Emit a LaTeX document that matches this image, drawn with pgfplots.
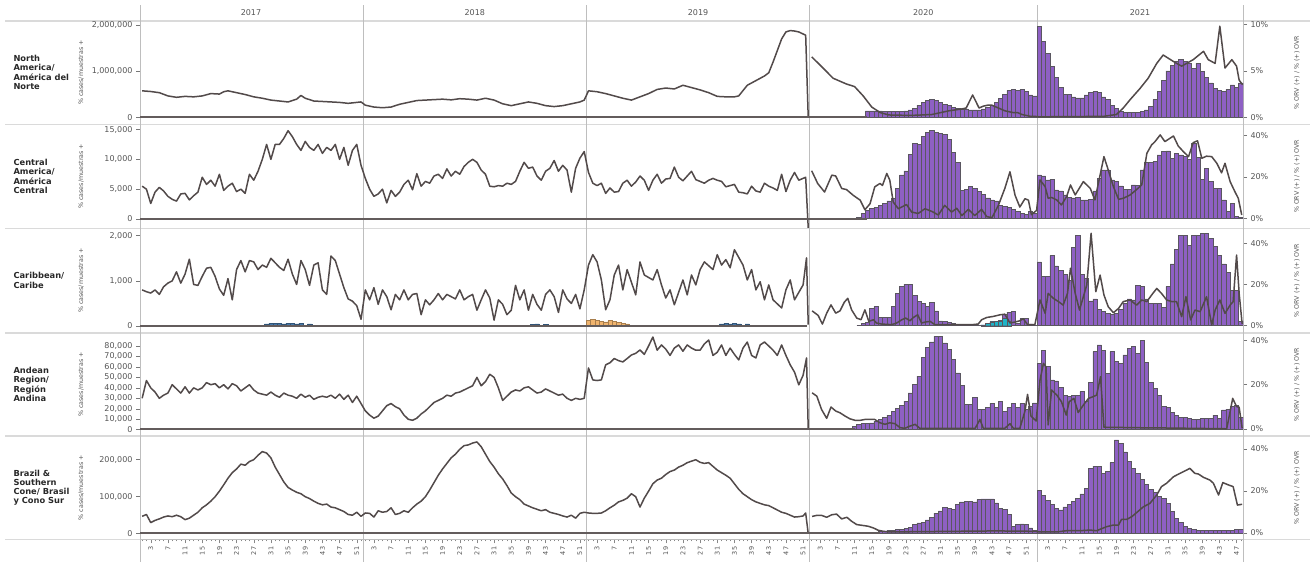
\documentclass[border=0pt]{standalone}
\usepackage{pgfplots}
\pgfplotsset{compat=1.18}
\usepackage{fontspec}
\setmainfont{DejaVu Sans}
\definecolor{barc}{RGB}{142,96,196}
\definecolor{barline}{RGB}{90,86,96}
\definecolor{ln}{RGB}{82,74,74}
\definecolor{txt}{RGB}{85,85,85}
\definecolor{hdr}{RGB}{40,40,40}
\definecolor{sep}{RGB}{218,218,218}
\definecolor{vsep}{RGB}{190,190,190}
\definecolor{cy}{RGB}{30,180,200}
\definecolor{org}{RGB}{240,180,110}
\definecolor{blu}{RGB}{70,120,170}

\pgfplotsset{
  base/.style={scale only axis, width=1103pt, xmin=0.5, xmax=257.5,
    anchor=south west, scaled y ticks=false,
    axis line style={draw=vsep, line width=0.8pt},
    tick align=outside, major tick length=4pt, minor tick length=2pt,
    ytick style={draw=txt!80, line width=0.5pt},
    yticklabel style={font=\fontsize{8}{9}\selectfont, text=txt}},
  nox/.style={axis x line=none},
  lft/.style={base, nox, axis y line*=left},
  rgt/.style={base, nox, axis y line*=right},
  rgtb/.style={base, axis y line*=right, axis x line*=bottom},
  cnt/.style={line width=1.5pt, color=ln, mark=none, line join=round},
  pct/.style={line width=1.5pt, color=ln, mark=none, line join=round},
  zer/.style={line width=2pt, color=ln!90, mark=none},
  bars/.style={ybar, bar width=1, bar shift=0pt, fill=barc, draw=barline, line width=0.5pt},
}

\begin{document}
\begin{tikzpicture}
\path[use as bounding box] (0,0) rectangle (1310pt,-565pt);

% frame lines
\foreach \y in {20.7,124.3,228.3,332.7,436,539.3}
  \draw[sep, line width=1.6pt] (5pt,-\y pt) -- (1310pt,-\y pt);
\foreach \x in {140,363.2,586.4,809.6,1037,1243}
  \draw[vsep, line width=0.8pt] (\x pt,-5pt) -- (\x pt,-562pt);

% year headers
\foreach \x/\t in {251/2017,474.8/2018,698/2019,923.3/2020,1140/2021}
  \node[text=txt, font=\fontsize{8}{9}\selectfont] at (\x pt,-12.5pt) {\t};

% row headers and axis titles
\foreach \c/\t in {72.5/{North\\America/\\América del\\Norte},
                  176.3/{Central\\America/\\América\\Central},
                  280.5/{Caribbean/\\Caribe},
                  384.4/{Andean\\Region/\\Región\\Andina},
                  487.7/{Brazil \&\\Southern\\Cone/ Brasil\\y Cono Sur}}
  \node[anchor=west, align=left, text=hdr, font=\fontsize{8.3}{9.3}\selectfont\bfseries] at (10pt,-\c pt) {\t};
\foreach \c in {72.5,176.3,280.5,384.4,487.7}{
  \node[rotate=90, text=txt, font=\fontsize{6.3}{7}\selectfont] at (81pt,-\c pt) {\% cases/muestras +};
  \node[rotate=90, text=txt, font=\fontsize{6.3}{7}\selectfont] at (1297pt,-\c pt) {\% ORV (+) / \% (+) OVR};
}

% ================= Row 1: North America
\begin{axis}[lft, at={(140pt,-124.3pt)}, height=103.6pt, ymin=-142395, ymax=2092772,
  ytick={0,1000000,2000000}, yticklabels={0,{1,000,000},{2,000,000}}]
\addplot[cnt] coordinates {(1,580000)(3,565000)(5,540000)(7,470000)(9,440000)(11,460000)(13,450000)(15,470000)(17,520000)(19,510000)(20,560000)(21,580000)(23,540000)(25,500000)(27,450000)(29,420000)(31,380000)(33,360000)(35,340000)(37,400000)(38,480000)(39,420000)(41,360000)(43,350000)(45,340000)(47,330000)(49,310000)(51,330000)(52,340000)
(53,270000)(55,230000)(57,215000)(59,230000)(61,290000)(63,330000)(65,370000)(67,380000)(69,390000)(71,400000)(73,385000)(75,410000)(77,400000)(79,380000)(81,420000)(83,380000)(85,300000)(87,260000)(89,300000)(91,340000)(93,310000)(95,260000)(97,240000)(99,260000)(101,300000)(103,340000)(104,380000)
(105,580000)(107,560000)(109,520000)(111,470000)(113,420000)(115,380000)(117,450000)(119,520000)(121,610000)(123,640000)(125,620000)(127,700000)(129,650000)(131,600000)(133,540000)(135,460000)(137,450000)(139,450000)(140,470000)(142,700000)(144,800000)(146,900000)(147,970000)(148,1200000)(149,1450000)(150,1700000)(151,1850000)(152,1880000)(153,1870000)(154,1850000)(155.6,1780000)(156.2,0)};
\end{axis}
\begin{axis}[rgt, at={(140pt,-124.3pt)}, height=103.6pt, ymin=-0.753, ymax=10.39,
  ytick={0,5,10}, yticklabels={0\%,5\%,10\%}]
\addplot[bars] coordinates {(169,0.1)(170,0.7)(171,0.7)(172,0.7)(173,0.7)(174,0.6)(175,0.6)(176,0.6)(177,0.6)(178,0.6)(179,0.7)(180,0.8)(181,1.0)(182,1.3)(183,1.6)(184,1.8)(185,1.9)(186,1.8)(187,1.6)(188,1.4)(189,1.3)(190,1.1)(191,1.0)(192,0.9)(193,0.9)(194,0.8)(195,0.8)(196,0.8)(197,0.9)(198,1.1)(199,1.3)(200,1.6)(201,2.0)(202,2.5)(203,2.9)(204,3.0)(205,2.9)(206,3.0)(207,2.8)(208,2.4)(209,2.3)
(210,9.8)(211,8.2)(212,6.9)(213,5.5)(214,4.3)(215,3.2)(216,2.5)(217,2.5)(218,2.2)(219,2.1)(220,2.1)(221,2.4)(222,2.7)(223,2.8)(224,2.7)(225,2.2)(226,1.9)(227,1.3)(228,1.0)(229,0.7)(230,0.5)(231,0.5)(232,0.5)(233,0.5)(234,0.6)(235,0.8)(236,1.2)(237,1.9)(238,2.8)(239,4.0)(240,5.0)(241,5.6)(242,6.0)(243,6.2)(244,6.0)(245,5.8)(246,5.3)(247,5.8)(248,4.9)(249,4.3)(250,3.7)(251,3.1)(252,2.9)(253,2.8)(254,3.0)(255,3.5)(256,3.2)(257,3.7)};
\addplot[zer] coordinates {(0.5,0)(170,0)};
\addplot[pct] coordinates {(157,6.5)(159,5.6)(162,4.2)(165,3.6)(167,3.3)(169,2.3)(171,1.1)(173,0.5)(175,0.25)(180,0.2)(185,0.3)(189,0.7)(192,0.9)(193,1.0)(194.5,2.4)(196,1.0)(197,1.2)(198,1.3)(199,1.3)(200,1.1)(201,0.9)(202,0.7)(203,0.6)(204,0.5)(205,0.5)(206,0.3)(207,0.2)(208,0.1)(209,0.1)(210,0.05)(225,0.1)(228,0.3)(229.6,1.0)(231.2,1.9)(233.5,3.1)(235.4,4.2)(237.4,5.8)(238.9,6.7)(241.3,6.0)(243.2,5.5)(245.9,6.2)(248.3,7.1)(249.4,6.2)(251,5.8)(252.1,9.8)(253.3,5.3)(254.9,6.2)(256,5.5)(256.6,4.0)(257.4,3.5)};
\end{axis}

% ================= Row 2: Central America
\begin{axis}[lft, at={(140pt,-228.3pt)}, height=104pt, ymin=-1559, ymax=15872,
  ytick={0,5000,10000,15000}, yticklabels={0,{5,000},{10,000},{15,000}}]
\addplot[cnt] coordinates {(1,5500)(2,5000)(3,2600)(4,4500)(5,5300)(6,4700)(7,3800)(8,3300)(9,3000)(10,4200)(11,4300)(12,3200)(13,3900)(14,4500)(15,7000)(16,5800)(17,6500)(18,5500)(19,7500)(20,4800)(21,5500)(22,6000)(23,4600)(24,5000)(25,4300)(26,7500)(27,6500)(28,8000)(29,10000)(30,12500)(31,10000)(32,12500)(33,12500)(34,13500)(35,14800)(36,13800)(37,12500)(38,11500)(39,13000)(40,12000)(41,11500)(42,12500)(43,11000)(44,12000)(45,11500)(46,12500)(47,10000)(48,12000)(49,9000)(50,11500)(51,12500)(52,9000)
(53,6800)(54,5000)(55,3800)(56,4200)(57,5000)(58,2700)(59,4800)(60,3800)(61,4500)(62,5800)(63,6500)(64,4900)(65,7600)(66,5500)(67,6300)(68,6000)(69,7200)(70,7500)(71,6800)(72,8400)(73,7200)(74,8000)(75,7500)(76,8800)(77,9500)(78,10000)(79,9500)(80,8200)(81,7500)(82,5500)(83,5400)(84,5600)(85,5500)(86,6000)(87,5800)(88,6300)(89,8000)(90,9500)(91,8500)(92,8700)(93,7200)(94,6500)(95,8000)(96,8500)(97,9800)(98,8000)(99,9000)(100,8200)(101,4500)(102,8500)(103,10200)(104,11300)
(105,7800)(106,6000)(107,5600)(108,6000)(109,4300)(110,5200)(111,4500)(112,4600)(113,6000)(114,6500)(115,5500)(116,6200)(117,7200)(118,6500)(119,4800)(120,6500)(121,7500)(122,6000)(123,6700)(124,6800)(125,8700)(126,7000)(127,6400)(128,7200)(129,8000)(130,6600)(131,6300)(132,6000)(133,6500)(134,6800)(135,6500)(136,6300)(137,5400)(138,5600)(139,5800)(140,4500)(141,4400)(142,4200)(143,5500)(144,4700)(145,4500)(146,6000)(147,5500)(148,5200)(149,4800)(150,7500)(151,4600)(152,6500)(153,7800)(154,6500)(155.6,7000)(156.2,-1500)};
\end{axis}
\begin{axis}[rgt, at={(140pt,-228.3pt)}, height=104pt, ymin=-4.6, ymax=45.3,
  ytick={0,20,40}, yticklabels={0\%,20\%,40\%}]
\addplot[bars] coordinates {(168,0.5)(169,2.4)(170,4.0)(171,5.0)(172,5.5)(173,6.5)(174,7.5)(175,8.5)(176,9.6)(177,14.5)(178,21)(179,23)(180,31)(181,36)(182,35.5)(183,39.5)(184,41.5)(185,42.5)(186,41.5)(187,41)(188,40.5)(189,38)(190,32)(191,27)(192,13.5)(193,14)(194,15.5)(195,14.5)(196,13)(197,11.5)(198,10)(199,9)(200,8.5)(201,6.5)(202,6)(203,5.5)(204,4.5)(205,3.5)(206,2.5)(207,2)(208,3.5)(209,2.5)
(210,21)(211,20.5)(212,18.6)(213,18.9)(214,13.8)(215,13.3)(216,11.4)(217,10.2)(218,10)(219,10.2)(220,9)(221,9)(222,9.3)(223,13.4)(224,19.4)(225,23.4)(226,23.4)(227,18.6)(228,17.8)(229,15.7)(230,14.2)(231,14)(232,16.2)(233,16)(234,23.4)(235,27)(236,27)(237,27.4)(238,30.6)(239,32.2)(240,32.6)(241,29)(242,31.4)(243,30.6)(244,29.8)(245,28.5)(246,36.2)(247,29.4)(248,18.9)(249,24.2)(250,17.8)(251,14.6)(252,14.6)(253,9)(254,3.4)(255,7.4)(256,1)(257,0.6)};
\addplot[zer] coordinates {(0.5,0)(170,0)};
\addplot[pct] coordinates {(157,23)(158.4,16.9)(160,12.8)(161.7,20.9)(162.6,20.5)(164,14.5)(165.1,14)(166.7,11.2)(168.3,8.9)(169.4,4.3)(170.6,7.2)(171.7,15.3)(172.9,16.9)(173.5,16)(174.5,21.7)(175.2,18.5)(176,8)(177.2,4.8)(179.1,6.8)(180.3,3.2)(181.8,2.5)(183.4,4.8)(185,3.5)(186.5,1.8)(188,6.4)(189.6,3.2)(190.8,5)(192,1.5)(193.5,4.5)(195,1.5)(196.6,4.5)(197.8,1)(199,0.5)(200.5,6.4)(202,14.5)(203.2,22.5)(204.4,11.2)(205.5,5.6)(206.7,9.6)(207.5,8.9)(208.2,1.9)(209.4,4)
(210.2,18.6)(211.4,15.4)(212.1,9.8)(212.9,10.2)(214.1,9)(215.2,6.6)(216.4,10.6)(217.3,16.2)(218.4,11.4)(220.3,17.8)(221.9,14.6)(223,9)(223.8,17)(225.1,29.8)(226.1,23.4)(227.3,15.4)(228.5,9.3)(229.6,9.8)(231.2,11.4)(232.6,13.8)(233.9,16.2)(235.1,31.4)(236.2,35.4)(237,37)(238.2,40.2)(239.3,37)(241.3,39.7)(242.4,34.9)(243.6,32.2)(244.8,29.8)(245.9,36.5)(246.9,37.4)(247.9,29)(249,30)(250.2,29.8)(251.4,26.6)(252.5,22)(253.3,26.6)(254.5,17.8)(255.6,13)(256.4,9.8)(257.2,1.8)};
\end{axis}

% ================= Row 3: Caribbean
\begin{axis}[lft, at={(140pt,-332.7pt)}, height=104.4pt, ymin=-148, ymax=2164,
  ytick={0,1000,2000}, yticklabels={0,{1,000},{2,000}}]
\addplot[ybar, bar width=1, bar shift=0pt, fill=org, draw=org!70!black, line width=0.3pt] coordinates {(105,120)(106,150)(107,130)(108,100)(109,90)(110,120)(111,110)(112,80)(113,60)(114,50)};
\addplot[ybar, bar width=1, bar shift=0pt, fill=blu, draw=blu!70!black, line width=0.3pt] coordinates {(30,50)(31,60)(32,55)(33,60)(34,50)(35,60)(36,55)(37,50)(38,60)(40,45)(92,40)(93,45)(95,40)(136,50)(137,55)(138,50)(139,60)(140,50)(142,45)};
\addplot[zer] coordinates {(0.5,0)(156,0)};
\addplot[cnt] coordinates {(1,800)(2,760)(3,730)(4,800)(5,700)(6,870)(7,950)(8,1000)(9,1200)(10,950)(11,1150)(12,1480)(13,920)(14,900)(15,1100)(16,1280)(17,1300)(18,1100)(19,820)(20,680)(21,1050)(22,580)(23,1250)(24,1450)(25,1200)(26,1450)(27,1420)(28,1250)(29,1350)(30,1300)(31,1500)(32,1400)(33,1300)(34,1230)(35,1480)(36,1150)(37,920)(38,1450)(39,1250)(40,900)(41,1350)(42,1400)(43,800)(44,700)(45,1550)(46,1450)(47,1150)(48,850)(49,600)(50,550)(51,450)(52,150)
(53,800)(54,580)(55,850)(56,480)(57,800)(58,650)(59,360)(60,700)(61,580)(62,800)(63,580)(64,700)(65,720)(66,250)(67,580)(68,470)(69,580)(70,720)(71,580)(72,700)(73,650)(74,600)(75,800)(76,580)(77,650)(78,700)(79,350)(80,580)(81,800)(82,620)(83,130)(84,580)(85,480)(86,250)(87,350)(88,900)(89,580)(90,800)(91,350)(92,700)(93,480)(94,350)(95,700)(96,800)(97,650)(98,300)(99,800)(100,600)(101,500)(102,700)(103,380)(104,800)
(105,1350)(106,1580)(107,1420)(108,1020)(109,360)(110,580)(111,1130)(112,1350)(113,800)(114,1250)(116,690)(117,1420)(118,1130)(120,1020)(121,1250)(122,910)(123,620)(124,800)(125,470)(127,1020)(128,690)(129,1130)(130,910)(131,1250)(132,1420)(134,1250)(135,1580)(136,1350)(137,1470)(138,1290)(139,1690)(141,1350)(142,1020)(143,1250)(144,800)(145,980)(146,580)(147,910)(148,580)(150,400)(151,800)(152,1020)(153,580)(155,910)(155.8,1510)(156.2,30)};
\end{axis}
\begin{axis}[rgt, at={(140pt,-332.7pt)}, height=104.4pt, ymin=-3.4, ymax=47.3,
  ytick={0,20,40}, yticklabels={0\%,20\%,40\%}]
\addplot[bars] coordinates {(168,0.3)(169,1.0)(170,1.5)(171,8.5)(172,9.3)(173,4.0)(174,4.0)(175,4.2)(176,9.3)(177,15.7)(178,19)(179,20.2)(180,20)(181,14.9)(182,11.7)(183,10.9)(184,9.3)(185,11.4)(186,7.2)(187,2.4)(188,2.1)(189,1.5)(190,1.0)(191,0.8)(192,0.6)(193,0.5)(194,0.4)(195,0.3)(196,0.3)(197,0.4)(198,1.0)(199,2.0)(200,2.0)(201,2.5)(202,5.6)(203,6.6)(204,6.9)(205,1.3)(206,3.4)(207,3.4)(208,0.9)(209,0.3)
(210,31)(211,24)(212,24)(213,34)(214,29)(215,27)(216,25)(217,22)(218,38)(219,44)(220,25)(221,23)(222,12)(223,13)(224,8)(225,7)(226,6)(227,5.5)(228,6)(229,8)(230,11)(231,13)(232,12.5)(233,19.5)(234,19)(235,13)(236,11)(237,11)(238,11)(239,9)(240,19)(241,30)(242,37)(243,44)(244,44)(245,39)(246,44)(247,44)(248,45)(249,45)(250,42.5)(251,38.5)(252,34)(253,30)(254,26)(255,17)(256,17)(257,2)};
\addplot[ybar, bar width=1, bar shift=0pt, fill=cy, draw=barline, line width=0.4pt] coordinates {(197,0.4)(198,1.0)(199,1.8)(200,2.0)(201,2.2)(202,3.5)(203,2.0)};
\addplot[pct] coordinates {(157.1,7.2)(158.5,5)(159.5,0.8)(160.5,6.1)(161.5,10.1)(162.6,6.1)(163.6,7.2)(164.6,11.4)(165.4,13.3)(166.3,7.7)(167.5,3.7)(168.5,2.9)(169.4,7.7)(170.3,2.1)(171.4,2.9)(172.1,1.3)(173.3,0.8)(175.6,0.5)(176.8,1.3)(178,2.9)(178.9,3.7)(179.9,2.4)(180.7,4)(181.7,5.3)(182.6,1.3)(183.5,1.8)(184.6,2.1)(185.7,0.5)(194.3,0.5)(195.8,0.8)(196.6,2.9)(197.8,4)(199.3,4.5)(200.9,5.3)(202,5.6)(203.2,1.3)(204.4,1.8)(205.5,2.4)(206.3,3.4)(207.3,0.5)(209,0.5)
(210.2,12.5)(211.4,6)(212.1,15.7)(213.3,13.3)(214.5,11.7)(215.6,10)(216.6,15.7)(217.3,27.9)(218.4,15.7)(219.4,7.6)(220.3,14.1)(221.1,19.8)(222.1,44.9)(223.2,16.5)(224.2,24.6)(225.1,14.9)(226.1,9.2)(227.3,6.3)(228.5,8.4)(229.6,11.7)(231.2,12.5)(232.7,10)(233.9,12.5)(235.1,11.7)(236.2,14.9)(237.4,18.1)(238.5,15.7)(239.7,12.5)(240.9,11.7)(242,11.7)(243.2,4.4)(244.2,14.1)(245.3,2.8)(246.3,7.6)(247.5,6.8)(249,14.1)(250.2,0.3)(251,7.6)(252.1,12.5)(253.3,6)(254.5,10)(255.2,11.7)(256,34.3)(256.6,15.7)(257.3,0.8)};
\end{axis}

% ================= Row 4: Andean
\begin{axis}[lft, at={(140pt,-436pt)}, height=103.3pt, ymin=-6022, ymax=92712,
  ytick={0,10000,...,80000}, yticklabels={0,{10,000},{20,000},{30,000},{40,000},{50,000},{60,000},{70,000},{80,000}}]
\addplot[cnt] coordinates {(1,30000)(2,47000)(3,40000)(4,36000)(5,30000)(6,33000)(7,35000)(8,43000)(9,39000)(10,35000)(11,41000)(12,35000)(13,40000)(14,38000)(15,40000)(16,45000)(17,43000)(18,44000)(19,40000)(20,43000)(21,39000)(22,44000)(23,42000)(24,37000)(25,40000)(26,43000)(27,38000)(28,35000)(29,34000)(30,33000)(31,36000)(32,33000)(33,31000)(34,35000)(35,33000)(36,32000)(37,30000)(38,34000)(39,31000)(40,33000)(41,29000)(42,31000)(43,32000)(44,31000)(45,33000)(46,30000)(47,34000)(48,29000)(49,33000)(50,26000)(51,32000)(52,25000)
(53,18000)(54,14000)(55,11000)(56,13000)(57,18000)(58,23000)(59,25000)(60,22000)(61,20000)(62,14000)(63,10000)(64,9000)(65,11000)(66,15000)(67,18000)(68,22000)(69,26000)(70,28000)(71,30000)(72,33000)(73,32000)(74,35000)(75,36000)(76,38000)(77,40000)(78,42000)(79,50000)(80,42000)(81,46000)(82,53000)(83,50000)(84,40000)(85,28000)(86,32000)(87,36000)(88,38000)(89,37000)(90,40000)(91,41000)(92,38000)(93,35000)(94,36000)(95,39000)(96,37000)(97,35000)(98,33000)(99,34000)(100,30000)(101,28000)(102,30000)(103,29000)(104,30000)
(105,59000)(106,47600)(107,47000)(108,47600)(109,62000)(110,64000)(111,68000)(112,66000)(113,64800)(114,68000)(115,71400)(116,73000)(117,76200)(118,72000)(119,80000)(120,88600)(121,76000)(122,81000)(123,77000)(124,71000)(125,78000)(126,81000)(127,75000)(128,81000)(129,78000)(130,76000)(131,76000)(132,82000)(133,85700)(134,71000)(135,74000)(136,81000)(137,71000)(138,78000)(139,72000)(140,66700)(141,78000)(142,83800)(143,71000)(144,68600)(145,81000)(146,83800)(147,80000)(148,76000)(149,71000)(150,81000)(151,71000)(152,62000)(153,55000)(154,42900)(155,52000)(155.8,68600)(156.2,0)};
\end{axis}
\begin{axis}[rgt, at={(140pt,-436pt)}, height=103.3pt, ymin=-3.16, ymax=43.4,
  ytick={0,20,40}, yticklabels={0\%,20\%,40\%}]
\addplot[bars] coordinates {(167,1.3)(168,2.1)(169,2.4)(170,2.5)(171,2.8)(172,3.6)(173,4.3)(174,5.4)(175,6.3)(176,7.8)(177,9.3)(178,10.8)(179,12.6)(180,16.3)(181,20.1)(182,23.8)(183,32.4)(184,36.9)(185,39.3)(186,41.8)(187,41.8)(188,38.8)(189,35.8)(190,31.3)(191,25.3)(192,19.8)(193,11.1)(194,11.1)(195,14.1)(196,8.8)(197,9)(198,9.9)(199,11.5)(200,9.9)(201,12.6)(202,8.1)(203,9.6)(204,11.5)(205,9.9)(206,11.5)(207,8.8)(208,10.3)(209,11.8)
(210,29.6)(211,35.6)(212,28.1)(213,22.1)(214,21.7)(215,18.8)(216,15.3)(217,14.6)(218,15)(219,15)(220,16.8)(221,12.3)(222,20.9)(223,34.9)(224,37.9)(225,35.6)(226,25.1)(227,34.9)(228,30.4)(229,29.6)(230,33.4)(231,36.4)(232,37.4)(233,34.1)(234,39.8)(235,29.9)(236,20.9)(237,18.3)(238,15.3)(239,10.1)(240,9.8)(241,7.4)(242,6.3)(243,5.3)(244,5.3)(245,4.8)(246,4.4)(247,4.4)(248,4.7)(249,4.7)(250,4.7)(251,6.3)(252,4.8)(253,8.6)(254,8.9)(255,10.1)(256,10.8)(257,5.3)};
\addplot[zer] coordinates {(0.5,0)(167,0)};
\addplot[pct] coordinates {(157.1,16.3)(158.2,14.8)(159.3,8.8)(160.5,4.8)(161.5,9.9)(162.6,8.1)(163.6,7.3)(164.8,5.8)(165.9,4.6)(167.1,3.9)(168.3,3.9)(169.4,4.3)(171.7,4.3)(172.9,2.8)(174.1,2.1)(175.2,2.8)(176.4,2.4)(177.6,0.6)(178.7,0.3)(179.9,1.3)(181.1,2.1)(182.2,0.3)(195.1,0.3)(196.2,4.3)(197,0.3)(202,0.3)(203.2,2.4)(204,0.3)(205.5,0.3)(206.7,8.1)(207.3,15.6)(208.1,5.8)(209.3,3.6)
(210.2,22)(211,29.6)(211.6,28)(212.1,1.8)(212.9,17.6)(214.1,15.3)(215.2,12.3)(216.3,6.3)(217,12.3)(218.1,13.8)(219.1,7.4)(220.3,10.8)(221.5,13.8)(222.6,14.6)(223.4,15.3)(224.3,23.6)(225.1,0.8)(235.8,0.5)(237.4,0.5)(253.7,0.1)(255.1,13.8)(256,10.1)(256.6,9.8)(257.3,0.3)};
\end{axis}

% ================= Row 5: Brazil & Southern Cone
\begin{axis}[lft, at={(140pt,-539.3pt)}, height=103.3pt, ymin=-15135, ymax=264054,
  ytick={0,100000,200000}, yticklabels={0,{100,000},{200,000}}]
\addplot[cnt] coordinates {(1,47000)(2,52000)(3,30000)(4,36000)(5,40000)(6,45000)(7,48000)(8,46000)(9,50000)(10,46000)(11,38000)(12,42000)(13,50000)(14,58000)(15,70000)(16,78000)(17,88000)(18,100000)(19,115000)(20,132000)(21,150000)(22,165000)(23,175000)(24,188000)(25,185000)(26,195000)(27,200000)(28,212000)(29,222000)(30,218000)(31,205000)(32,180000)(33,160000)(34,140000)(35,125000)(36,118000)(37,112000)(38,108000)(39,100000)(40,95000)(41,88000)(42,82000)(43,78000)(44,80000)(45,72000)(46,70000)(47,65000)(48,60000)(49,52000)(50,50000)(51,58000)(52,47000)
(53,56000)(54,55000)(55,45000)(56,62000)(57,58000)(58,60000)(59,70000)(60,52000)(61,55000)(62,62000)(63,58000)(64,70000)(65,80000)(66,88000)(67,100000)(68,118000)(69,138000)(70,158000)(71,175000)(72,190000)(73,205000)(74,215000)(75,228000)(76,238000)(77,240000)(78,245000)(79,248000)(80,235000)(81,215000)(82,195000)(83,180000)(84,162000)(85,148000)(86,130000)(87,110000)(88,100000)(89,92000)(90,80000)(91,75000)(92,70000)(93,66000)(94,62000)(95,65000)(96,58000)(97,55000)(98,52000)(99,48000)(100,45000)(101,50000)(102,42000)(103,55000)(104,58000)
(105,56000)(106,55000)(107,55000)(108,56000)(109,62000)(110,70000)(111,77000)(112,86000)(113,90000)(114,96000)(115,108000)(116,100000)(117,72000)(118,96000)(119,115000)(120,135000)(121,145000)(122,150000)(123,160000)(124,168000)(125,172000)(126,180000)(127,185000)(128,192000)(129,196000)(130,200000)(131,193000)(132,190000)(133,192000)(134,182000)(135,172000)(136,165000)(137,158000)(138,150000)(139,135000)(140,120000)(141,108000)(142,100000)(143,92000)(144,86000)(145,82000)(146,78000)(147,76000)(148,70000)(149,64000)(150,58000)(151,55000)(152,50000)(153,45000)(154,46000)(155,48000)(155.6,56000)(156.2,0)};
\end{axis}
\begin{axis}[rgtb, at={(140pt,-539.3pt)}, height=103.3pt, ymin=-3.0, ymax=46.2,
  ytick={0,20,40}, yticklabels={0\%,20\%,40\%},
  xtick={3,7,...,207,212,216,220,224,228,232,236,240,244,248,252,256},
  xticklabels={3,7,11,15,19,23,27,31,35,39,43,47,51,3,7,11,15,19,23,27,31,35,39,43,47,51,3,7,11,15,19,23,27,31,35,39,43,47,51,3,7,11,15,19,23,27,31,35,39,43,47,51,3,7,11,15,19,23,27,31,35,39,43,47},
  minor xtick={1,...,257},
  xtick style={draw=txt!70, line width=0.4pt},
  xticklabel style={rotate=90, anchor=east, font=\fontsize{6.5}{7}\selectfont, text=txt}]
\addplot[bars] coordinates {(173,0.8)(174,1.0)(175,1.1)(176,1.2)(177,1.6)(178,1.6)(179,2.1)(180,2.7)(181,4.0)(182,4.8)(183,5.1)(184,6.3)(185,7.5)(186,9.5)(187,10.6)(188,12.2)(189,11.6)(190,11.1)(191,13.5)(192,14.8)(193,15.1)(194,15.1)(195,14.8)(196,15.9)(197,16.3)(198,16.3)(199,16.3)(200,14.3)(201,11.6)(202,11.1)(203,9.0)(204,3.2)(205,4.0)(206,4.4)(207,4.0)(208,2.4)(209,1.1)
(210,20.2)(211,18.1)(212,15.7)(213,13.8)(214,11.7)(215,11)(216,12.5)(217,13.8)(218,14.9)(219,16.5)(220,18.6)(221,21.3)(222,30.8)(223,31.9)(224,31.6)(225,28.4)(226,29.2)(227,33.5)(228,44.3)(229,42.7)(230,38.7)(231,34)(232,30.8)(233,28.4)(234,25.7)(235,23.3)(236,20.8)(237,19.2)(238,17.3)(239,16.5)(240,14.1)(241,10.2)(242,7)(243,4.9)(244,3)(245,2.2)(246,1.7)(247,1.4)(248,1.1)(249,1.1)(250,1.3)(251,1.1)(252,1.1)(253,1.3)(254,1.4)(255,1.4)(256,1.7)(257,1.9)};
\addplot[zer] coordinates {(0.5,0)(173,0)};
\addplot[pct] coordinates {(157.1,7.9)(158.2,8.4)(159.3,8.4)(160.5,7.5)(161.7,8.7)(162.8,9)(164,6.7)(165.2,7.5)(166.3,5.6)(167.5,4)(168.6,3.7)(170.2,3.2)(171.4,2.4)(172.5,1.3)(173.7,0.8)(174.9,0.5)(180,0.6)(190,0.8)(200,1.0)(209,0.8)
(210.2,0.5)(214.1,0.5)(216.4,1.1)(219.5,1.1)(221.8,1.4)(223.4,1.1)(225.7,3)(227.3,3.8)(228.5,3.8)(229.2,6.5)(230.4,6.5)(231.6,7.8)(232.7,9.7)(234.3,12.5)(235.8,14.1)(237.4,18.1)(238.5,22.1)(239.7,23.7)(241.3,26.8)(242.8,28.4)(244.4,30)(245.1,30.8)(246.3,28.4)(247.1,28.1)(248.3,26.5)(249.8,25.2)(250.6,23.7)(251.8,18.1)(252.8,24)(254.1,22.9)(255.2,22.1)(256.2,13.3)(257.3,13.7)};
\end{axis}
\end{tikzpicture}
\end{document}
